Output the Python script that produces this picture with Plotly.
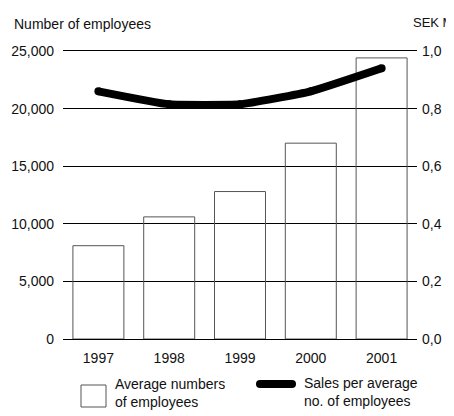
import plotly.graph_objects as go

years = ["1997", "1998", "1999", "2000", "2001"]
employees = [8100, 10600, 12800, 17000, 24400]
sales_per_employee = [0.86, 0.815, 0.815, 0.86, 0.94]

left_ticks = [0, 5000, 10000, 15000, 20000, 25000]
left_ticktext = ["0", "5,000", "10,000", "15,000", "20,000", "25,000"]
right_ticks = [0.0, 0.2, 0.4, 0.6, 0.8, 1.0]
right_ticktext = ["0,0", "0,2", "0,4", "0,6", "0,8", "1,0"]

FONT = "Liberation Sans, Arial, Helvetica, sans-serif"

# page body has an 8px default margin; compensate
OFF = 8
W, H = 454 - OFF, 416 - OFF
L, R, T, B = 63 - OFF, 37, 51 - OFF, 77
pw, ph = W - L - R, H - T - B

def px(x):
    return (x - OFF - L) / pw

def py(y):
    return (H - B - (y - OFF)) / ph

fig = go.Figure()
fig.add_trace(go.Bar(
    x=years, y=employees,
    marker=dict(color="rgba(0,0,0,0)", line=dict(color="#555555", width=1)),
    showlegend=False,
))
fig.add_trace(go.Scatter(
    x=years, y=sales_per_employee, yaxis="y2",
    mode="lines+markers",
    line=dict(color="black", width=8, shape="spline", smoothing=0.4),
    marker=dict(color="black", size=8),
    showlegend=False,
))

fig.update_layout(
    width=W, height=H,
    margin=dict(l=L, r=R, t=T, b=B, autoexpand=False),
    paper_bgcolor="white", plot_bgcolor="white",
    font=dict(family=FONT, size=14, color="#111111"),
    bargap=0.28,
    xaxis=dict(type="category", range=[-0.5, 4.5], showgrid=False,
               showline=True, mirror=True, linecolor="black", linewidth=1.3,
               zeroline=False, ticks="", ticklabelstandoff=6, automargin=False),
    yaxis=dict(range=[0, 25000], tickvals=left_ticks, ticktext=left_ticktext,
               showgrid=True, gridcolor="black", gridwidth=1.3, zeroline=False,
               showline=False, ticks="", ticklabelstandoff=8, automargin=False),
    yaxis2=dict(range=[0, 1.0], tickvals=right_ticks, ticktext=right_ticktext,
                overlaying="y", side="right", showgrid=False, zeroline=False,
                showline=False, ticks="", ticklabelstandoff=4, automargin=False),
    shapes=[
        dict(type="rect", xref="paper", yref="paper",
             x0=px(81), x1=px(106), y0=py(407), y1=py(385),
             line=dict(color="#555555", width=1), fillcolor="rgba(0,0,0,0)"),
        dict(type="line", xref="paper", yref="paper",
             x0=px(260), x1=px(292), y0=py(384), y1=py(384),
             line=dict(color="black", width=8)),
        dict(type="circle", xref="paper", yref="paper",
             x0=px(256), x1=px(264), y0=py(388), y1=py(380),
             line=dict(width=0), fillcolor="black"),
        dict(type="circle", xref="paper", yref="paper",
             x0=px(288), x1=px(296), y0=py(388), y1=py(380),
             line=dict(width=0), fillcolor="black"),
    ],
    annotations=[
        dict(text="Number of employees", xref="paper", yref="paper",
             x=px(12), y=py(24), xanchor="left", yanchor="middle",
             showarrow=False),
        dict(text="SEK M", xref="paper", yref="paper",
             x=px(411), y=py(22), xanchor="left", yanchor="middle",
             showarrow=False, font=dict(size=13)),
        dict(text="Average numbers<br>of employees", xref="paper", yref="paper",
             x=px(113), y=py(393), xanchor="left", yanchor="middle",
             showarrow=False, align="left"),
        dict(text="Sales per average<br>no. of employees", xref="paper", yref="paper",
             x=px(302), y=py(392), xanchor="left", yanchor="middle",
             showarrow=False, align="left"),
    ],
)

fig.write_html("out.html")
